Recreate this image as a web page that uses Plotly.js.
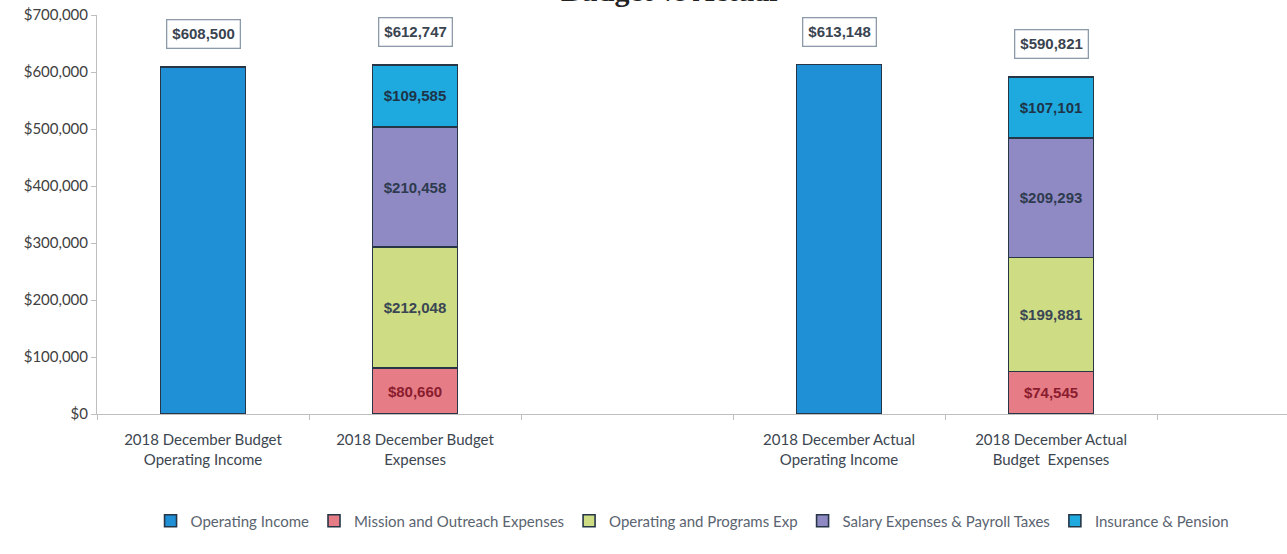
<!DOCTYPE html>
<html><head><meta charset="utf-8">
<script src="https://cdn.plot.ly/plotly-3.0.1.min.js"></script>
<style>html,body{margin:0;padding:0;background:#fff}#chart{width:1287px;height:554px}</style>
</head><body><div id="chart"></div>
<script>
const positions = [0, 1, 3, 4];
const categoryLabels = [
  "2018 December Budget<br>Operating Income",
  "2018 December Budget<br>Expenses",
  "2018 December Actual<br>Operating Income",
  "2018 December Actual<br>Budget  Expenses"
];
const operatingIncome = [608500, null, 613148, null];
const missionOutreach = [null, 80660, null, 74545];
const operatingPrograms = [null, 212048, null, 199881];
const salaryPayroll = [null, 210458, null, 209293];
const insurancePension = [null, 109585, null, 107101];
const totals = [608500, 612747, 613148, 590821];
const yTicks = [0, 100000, 200000, 300000, 400000, 500000, 600000, 700000];
const yTickLabels = ["$0", "$100,000", "$200,000", "$300,000", "$400,000", "$500,000", "$600,000", "$700,000"];

const fmt = v => v == null ? "" : "$" + v.toLocaleString("en-US");
const outline = {color: "#263646", width: 1.6};
const labelFont = {family: "Liberation Sans, Arial, sans-serif", size: 15, color: "#2E3B4E", weight: 700};

function series(name, vals, color, textColor, showText) {
  return {
    type: "bar", name: name, x: positions, y: vals,
    width: 0.4,
    marker: {color: color, line: outline},
    text: showText ? vals.map(fmt) : undefined,
    textposition: showText ? "inside" : "none",
    insidetextanchor: "middle",
    textangle: 0,
    constraintext: "none",
    textfont: Object.assign({}, labelFont, {color: textColor}),
    hoverinfo: "skip"
  };
}

const data = [
  series("Operating Income", operatingIncome, "#1F8FD6", "#2E3B4E", false),
  series("Mission and Outreach Expenses", missionOutreach, "#E67C86", "#8A1C2E", true),
  series("Operating and Programs Exp", operatingPrograms, "#CEDC84", "#3A4654", true),
  series("Salary Expenses & Payroll Taxes", salaryPayroll, "#908AC4", "#2E3B4E", true),
  series("Insurance & Pension", insurancePension, "#1FAADF", "#1E3448", true)
];

const annotations = positions.map((p, i) => ({
  x: p, y: totals[i], xref: "x", yref: "y",
  text: fmt(totals[i]), showarrow: false,
  yanchor: "bottom", yshift: 18,
  bgcolor: "#FFFFFF", bordercolor: "#8C9BAA", borderwidth: 1.3, borderpad: 5,
  font: {family: "Liberation Sans, Arial, sans-serif", size: 15, color: "#3A4450", weight: 700}
}));
annotations.push({
  xref: "paper", yref: "paper", x: 0.4815, y: 1, yanchor: "middle", yshift: 25,
  text: "<b>Budget vs Actual</b>", showarrow: false,
  font: {family: "Liberation Serif, Times New Roman, serif", size: 30, color: "#222"}
});

const layout = {
  width: 1287, height: 554,
  margin: {l: 97, r: 0, t: 15, b: 140},
  paper_bgcolor: "#FFFFFF", plot_bgcolor: "#FFFFFF",
  barmode: "stack",
  showlegend: true,
  legend: {
    orientation: "h", x: 0.045, xanchor: "left", y: -0.268, yanchor: "middle",
    font: {family: "Lato, sans-serif", size: 15, color: "#5A6470"},
    traceorder: "normal", itemwidth: 30
  },
  xaxis: {
    range: [-0.5, 5.113],
    tickmode: "array", tickvals: positions, ticktext: categoryLabels,
    ticks: "", showgrid: false, zeroline: false,
    showline: true, linecolor: "#BFBFBF", linewidth: 1,
    ticklabelstandoff: 12,
    tickfont: {family: "Lato, sans-serif", size: 15, color: "#3C4650"},
    minor: {tickmode: "array", tickvals: [-0.5, 0.5, 1.5, 2.5, 3.5, 4.5], ticks: "outside", ticklen: 5, tickcolor: "#BFBFBF", showgrid: false}
  },
  yaxis: {
    range: [0, 700000],
    tickmode: "array", tickvals: yTicks, ticktext: yTickLabels,
    ticks: "outside", ticklen: 5, tickcolor: "#BFBFBF",
    showgrid: false, zeroline: false,
    showline: true, linecolor: "#BFBFBF", linewidth: 1,
    tickfont: {family: "Lato, sans-serif", size: 15, color: "#404040"}
  },
  annotations: annotations
};

Plotly.newPlot("chart", data, layout, {displayModeBar: false, staticPlot: true});
</script></body></html>
